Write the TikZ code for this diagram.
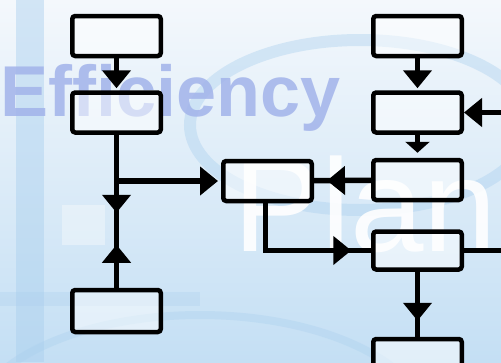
\documentclass[tikz,border=0pt]{standalone}
\usepackage{fontspec}
\newfontfamily\wordfont{Liberation Sans}
\usepackage{xcolor}
\usetikzlibrary{arrows.meta, positioning, decorations.markings}
\definecolor{skyback}{HTML}{C4DFF4}
\definecolor{skylight}{HTML}{F4F8FC}
\definecolor{skymid}{HTML}{A9CFEE}
\definecolor{wordblue}{HTML}{A2B3EA}

\begin{document}
\begin{tikzpicture}[
    x=1pt, y=-1pt,
    box/.style={rectangle, draw, line width=4.5pt, rounded corners=3pt, fill=white, fill opacity=0.5, draw opacity=1, minimum width=88.5pt, minimum height=40pt},
    flow/.style={draw, line width=5.5pt},
    bigtip/.tip={Triangle[width=28pt, length=18pt]},
    smalltip/.tip={Triangle[width=24pt, length=11pt]},
    tipat/.style={postaction={decorate, decoration={markings, mark=at position #1 with {\arrow{bigtip}}}}},
    backtipat/.style={postaction={decorate, decoration={markings, mark=at position #1 with {\arrowreversed{bigtip}}}}}
]
    \useasboundingbox (0,0) rectangle (501,362);
    \clip (0,0) rectangle (501,362);

    % Background
    \shade[top color=skylight, bottom color=skyback] (0,0) rectangle (501,362);
    \fill[skymid, opacity=0.45] (16,0) rectangle (44,362);
    \fill[skymid, opacity=0.3] (0,292) rectangle (200,306);
    \fill[white, opacity=0.35] (62,205) rectangle (105,245);
    \draw[skymid, line width=12pt, opacity=0.4] (360,125) ellipse [x radius=170, y radius=85];
    \draw[skymid, line width=8pt, opacity=0.35] (200,430) ellipse [x radius=230, y radius=115];
    \node[text=wordblue, opacity=0.85, font=\wordfont\bfseries\fontsize{72}{72}\selectfont, anchor=base west, inner sep=0pt] (effword) at (0,116) {Efficiency};
    \node[text=white, opacity=0.9, font=\wordfont\fontsize{132}{132}\selectfont, anchor=base west, inner sep=0pt] (planword) at (233,251) {Plan};

    % Nodes
    \node [box] (topL) at (116.5,36) {};
    \node [box, below=32pt of topL] (midL) {};
    \node [box, minimum height=42pt] (lowL) at (116.5,311) {};
    \node [box] (hub) at (267.5,181) {};
    \node [box] (topR) at (417.5,36) {};
    \node [box, below=32pt of topR] (inR) {};
    \node [box, below=23pt of inR] (midR) {};
    \node [box, below=27pt of midR, minimum height=38pt] (outR) {};
    \node [box, below=65pt of outR] (endR) {};
    \coordinate (split) at (midL.south |- hub.west);
    \coordinate [right=43pt of inR.east] (edgeIn);
    \coordinate [right=43pt of outR.east] (edgeOut);

    % Paths
    \draw [flow, -{bigtip}, shorten >=2pt] (topL) -- (midL);
    \draw [flow, tipat=78pt, backtipat=110pt] (midL) -- (lowL);
    \draw [flow, -{bigtip}, shorten >=3pt] (split) -- (hub);
    \draw [flow, tipat=44pt] (midR) -- (hub);
    \draw [flow, tipat=133pt] ([xshift=-2pt]hub.south) |- (outR);
    \draw [flow, tipat=49pt] (outR) -- (endR);
    \draw [flow, -{bigtip}, shorten >=2pt] (topR) -- (inR);
    \draw [flow, -{smalltip}, shorten >=5pt] (inR) -- (midR);
    \draw [flow, -{bigtip}] (edgeIn) -- (inR);
    \draw [flow] (outR) -- (edgeOut);
\end{tikzpicture}
\end{document}
